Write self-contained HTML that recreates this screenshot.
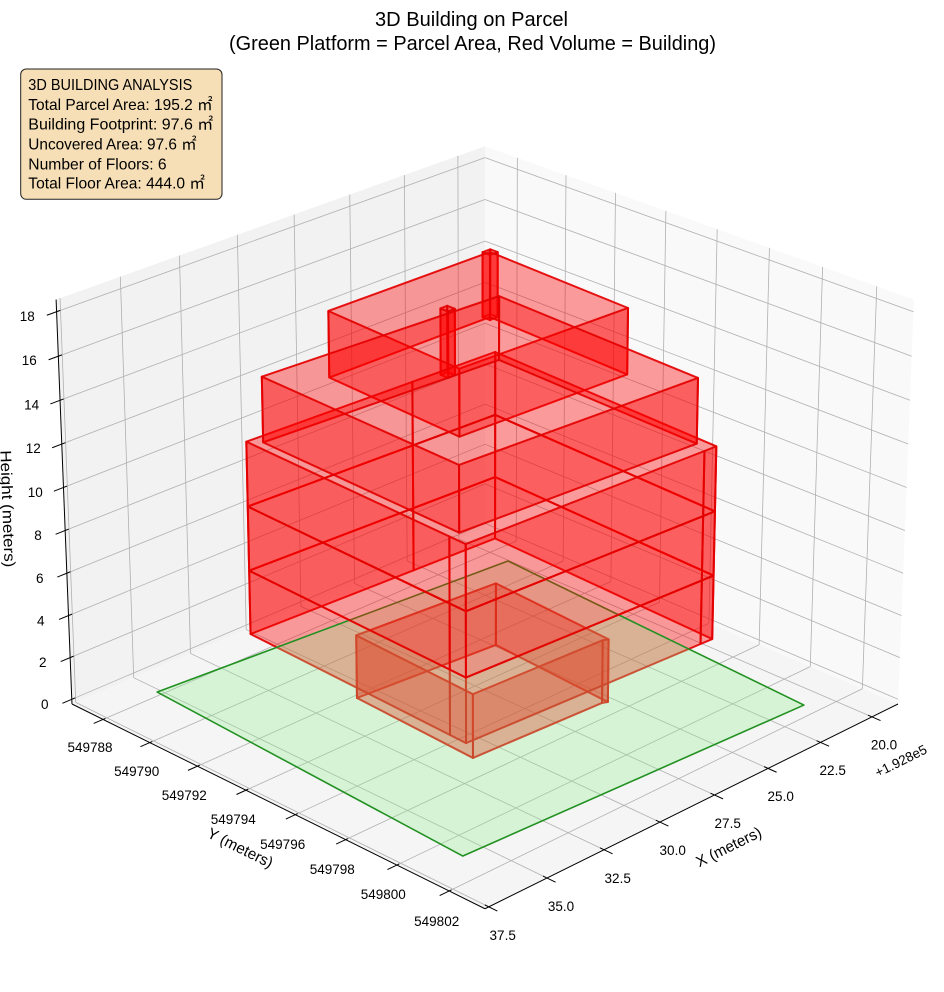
<!DOCTYPE html>
<html>
<head>
<meta charset="utf-8">
<style>
html,body{margin:0;padding:0;background:#fff;}
svg{display:block;}
text{font-family:"Liberation Sans","Noto Sans CJK JP",sans-serif;fill:#000;}
</style>
</head>
<body>
<svg id="s" xmlns="http://www.w3.org/2000/svg" width="944" height="992" viewBox="0 0 944 992">
<rect width="944" height="992" fill="#fff"/>
<g id="geom"></g>
<g id="labels">
  <text x="471.5" y="26" text-anchor="middle" font-size="20" textLength="193" lengthAdjust="spacingAndGlyphs">3D Building on Parcel</text>
  <text x="472.5" y="50" text-anchor="middle" font-size="20" textLength="487" lengthAdjust="spacingAndGlyphs">(Green Platform = Parcel Area, Red Volume = Building)</text>

  <!-- z tick labels -->
  <g font-size="13.5" text-anchor="middle" dominant-baseline="central">
    <text x="27.3" y="316.7">18</text>
    <text x="29.3" y="360.7">16</text>
    <text x="31.7" y="405">14</text>
    <text x="33.3" y="448.3">12</text>
    <text x="35.3" y="492.3">10</text>
    <text x="38" y="535.7">8</text>
    <text x="39.7" y="578.3">6</text>
    <text x="40.8" y="621">4</text>
    <text x="42.7" y="662.7">2</text>
    <text x="44.8" y="704.3">0</text>
  </g>
  <!-- y tick labels -->
  <g font-size="13.5" text-anchor="middle" dominant-baseline="central">
    <text x="90" y="747.7">549788</text>
    <text x="136.7" y="771.7">549790</text>
    <text x="184.3" y="795.7">549792</text>
    <text x="233.3" y="819.3">549794</text>
    <text x="282.7" y="844.3">549796</text>
    <text x="332.3" y="869.3">549798</text>
    <text x="383.3" y="894.3">549800</text>
    <text x="436.7" y="921.7">549802</text>
  </g>
  <!-- x tick labels -->
  <g font-size="13.5" text-anchor="middle" dominant-baseline="central">
    <text x="884" y="745">20.0</text>
    <text x="832.7" y="770.7">22.5</text>
    <text x="780.7" y="796.7">25.0</text>
    <text x="727.7" y="823.3">27.5</text>
    <text x="672.7" y="850.7">30.0</text>
    <text x="617.7" y="878.3">32.5</text>
    <text x="561" y="906.7">35.0</text>
    <text x="502.7" y="935.7">37.5</text>
  </g>
  <text font-size="13.5" text-anchor="middle" dominant-baseline="central" textLength="56" lengthAdjust="spacingAndGlyphs" transform="translate(901,761) rotate(-26.4)">+1.928e5</text>

  <!-- axis labels -->
  <text font-size="15.5" text-anchor="middle" dominant-baseline="central" textLength="71" lengthAdjust="spacingAndGlyphs" transform="translate(729,847.5) rotate(-26.4)">X (meters)</text>
  <text font-size="15.5" text-anchor="middle" dominant-baseline="central" textLength="71" lengthAdjust="spacingAndGlyphs" transform="translate(240,848.5) rotate(26.3)">Y (meters)</text>
  <text font-size="15.5" text-anchor="middle" textLength="117" lengthAdjust="spacingAndGlyphs" transform="translate(2.5,509) rotate(87.9)">Height (meters)</text>

  <!-- info box -->
  <rect x="20.7" y="69" width="201.3" height="130.3" rx="5.5" ry="5.5" fill="#f6dfb6" stroke="#222" stroke-width="1"/>
  <g font-size="16">
    <text x="28.3" y="90" textLength="164" lengthAdjust="spacingAndGlyphs">3D BUILDING ANALYSIS</text>
    <text x="28.3" y="110" textLength="184.3" lengthAdjust="spacingAndGlyphs">Total Parcel Area: 195.2 ㎡</text>
    <text x="28.3" y="129.5" textLength="185" lengthAdjust="spacingAndGlyphs">Building Footprint: 97.6 ㎡</text>
    <text x="28.3" y="149.5" textLength="168.3" lengthAdjust="spacingAndGlyphs">Uncovered Area: 97.6 ㎡</text>
    <text x="28.3" y="169.5" textLength="138.3" lengthAdjust="spacingAndGlyphs">Number of Floors: 6</text>
    <text x="28.3" y="188.5" textLength="176.7" lengthAdjust="spacingAndGlyphs">Total Floor Area: 444.0 ㎡</text>
  </g>
</g>
</svg>
<script>
(function(){
  var NS="http://www.w3.org/2000/svg";
  var XMIN=18.716,XMAX=37.661,YMIN=6.65,YMAX=23.35,ZMIN=0,ZMAX=18.73;
  var A=0.595,C=0.446,DIST=10;
  var se=Math.sin(25*Math.PI/180),ce=Math.cos(25*Math.PI/180),s=Math.SQRT1_2;
  var K=5001,OX=485,OY=505.6;
  function pr(p){
    var X=A*(2*(p[0]-XMIN)/(XMAX-XMIN)-1),
        Y=A*(2*(p[1]-YMIN)/(YMAX-YMIN)-1),
        Z=C*(2*(p[2]-ZMIN)/(ZMAX-ZMIN)-1);
    var u=s*(Y-X),P=s*(X+Y),v=-se*P+ce*Z,w=ce*P+se*Z,D=DIST-w;
    return [OX+K*u/D,OY-K*v/D,D];
  }
  var g=document.getElementById('geom');
  function el(tag,attrs){
    var e=document.createElementNS(NS,tag);
    for(var k in attrs){e.setAttribute(k,attrs[k]);}
    g.appendChild(e);return e;
  }
  function copy(o){var r={};for(var k in o)r[k]=o[k];return r;}
  function pts(list){return list.map(function(p){var q=pr(p);return q[0].toFixed(2)+','+q[1].toFixed(2);}).join(' ');}
  function poly(list,style){var a=copy(style);a.points=pts(list);return el('polygon',a);}
  function line(a,b,style){var p=pr(a),q=pr(b),o=copy(style);
    o.x1=p[0].toFixed(2);o.y1=p[1].toFixed(2);o.x2=q[0].toFixed(2);o.y2=q[1].toFixed(2);return el('line',o);}

  // panes
  poly([[XMAX,YMIN,ZMIN],[XMIN,YMIN,ZMIN],[XMIN,YMIN,ZMAX],[XMAX,YMIN,ZMAX]],{fill:'#f2f2f2'});
  poly([[XMIN,YMIN,ZMIN],[XMIN,YMAX,ZMIN],[XMIN,YMAX,ZMAX],[XMIN,YMIN,ZMAX]],{fill:'#f9f9f9'});
  poly([[XMIN,YMIN,ZMIN],[XMAX,YMIN,ZMIN],[XMAX,YMAX,ZMIN],[XMIN,YMAX,ZMIN]],{fill:'#f5f5f5'});

  // grid
  var gs={stroke:'#b0b0b0','stroke-width':0.8,fill:'none'};
  var xt=[20,22.5,25,27.5,30,32.5,35,37.5];
  var yt=[8,10,12,14,16,18,20,22];
  var zt=[0,2,4,6,8,10,12,14,16,18].map(function(t){return (t+0.2265)*ZMAX/18.77;});
  xt.forEach(function(x){line([x,YMIN,ZMIN],[x,YMAX,ZMIN],gs);line([x,YMIN,ZMIN],[x,YMIN,ZMAX],gs);});
  yt.forEach(function(y){line([XMIN,y,ZMIN],[XMAX,y,ZMIN],gs);line([XMIN,y,ZMIN],[XMIN,y,ZMAX],gs);});
  zt.forEach(function(z){line([XMAX,YMIN,z],[XMIN,YMIN,z],gs);line([XMIN,YMIN,z],[XMIN,YMAX,z],gs);});

  // axis lines + ticks
  var ax={stroke:'#000','stroke-width':1};
  line([XMAX,YMIN,ZMIN],[XMAX,YMIN,ZMAX],ax);
  line([XMAX,YMIN,ZMIN],[XMAX,YMAX,ZMIN],ax);
  line([XMAX,YMAX,ZMIN],[XMIN,YMAX,ZMIN],ax);
  zt.forEach(function(z){line([XMAX+0.4,YMIN,z],[XMAX-0.15,YMIN,z],ax);});
  yt.forEach(function(y){line([XMAX+0.4,y,ZMIN],[XMAX-0.1,y,ZMIN],ax);});
  xt.forEach(function(x){line([x,YMAX+0.32,ZMIN],[x,YMAX-0.15,ZMIN],ax);});

  // building
  var RED={fill:'rgba(255,0,0,0.38)',stroke:'rgba(228,0,0,0.92)','stroke-width':2,'stroke-linejoin':'round'};
  var GREEN={fill:'rgba(144,238,144,0.3)',stroke:'rgb(34,145,34)','stroke-width':1.6,'stroke-linejoin':'round'};
  function walls(fp,z0,z1){
    var out=[];
    for(var i=0;i<fp.length;i++){
      var a=fp[i],b=fp[(i+1)%fp.length];
      out.push([[a[0],a[1],z0],[b[0],b[1],z0],[b[0],b[1],z1],[a[0],a[1],z1]]);
    }
    return out;
  }
  function drawColl(polys,style){
    polys.map(function(p){
      var d=0;p.forEach(function(q){d+=pr(q)[2];});
      return {p:p,d:d/p.length};
    }).sort(function(a,b){return b.d-a.d;}).forEach(function(o){poly(o.p,style);});
  }
  function boxfp(x0,x1,y0,y1){return [[x1,y0],[x1,y1],[x0,y1],[x0,y0]];}

  var G=[[30.83,12.14],[31.10,17.09],[25.45,17.32],[25.27,17.40],[24.91,12.56]];
  var BIG=[[33.18,9.95],[33.56,18.38],[33.59,19.03],[23.42,19.45],[22.89,19.47],[22.48,10.39],[26.14,10.24]];
  var F5=[[32.84,10.32],[33.16,18.40],[23.18,18.96],[22.86,10.88]];
  var F6=[[31.38,11.69],[31.68,17.10],[24.56,17.40],[24.32,11.79]];
  var S1=boxfp(24.15,24.5,11.65,11.95), S2=boxfp(28.45,28.75,13.75,14.05);
  var PARCEL=[[35.14,7.81,0],[20.05,8.81,0],[20.93,21.49,0],[35.84,20.90,0]];

  drawColl(walls(G,0,3),RED);
  drawColl(walls(BIG,3,6),RED);
  poly(PARCEL,GREEN);
  drawColl(walls(BIG,6,9),RED);
  drawColl(walls(F6,15,18).concat(walls(S1,15,18),walls(S2,15,18)),RED);
  drawColl(walls(BIG,9,12),RED);
  drawColl(walls(F5,12,15),RED);
})();
</script>
</body>
</html>
